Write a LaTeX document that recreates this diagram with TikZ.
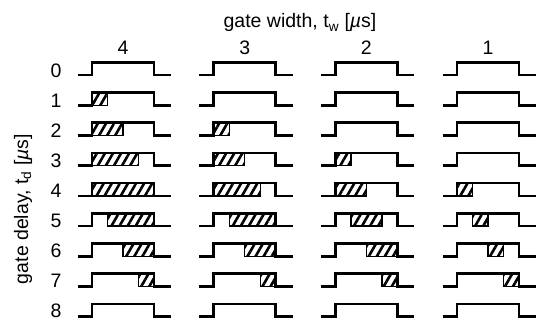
\documentclass[tikz,border=0pt]{standalone}
\usepackage{fontspec}
\setmainfont{Liberation Sans}
\usetikzlibrary{patterns.meta}

\tikzset{
  pulse/.style={line width=2.6pt, line join=miter},
  gatebox/.style={draw, line width=1.4pt, pattern={Lines[angle=60,distance=7pt,line width=2.6pt]}},
  lbl/.style={font=\fontsize{19.5}{22}\selectfont, inner sep=0pt},
}

\begin{document}
\begin{tikzpicture}[x=1pt,y=-1pt]
  \useasboundingbox (0,0) rectangle (541,321);
  % axis titles
  \node[lbl, anchor=base] (xlabel) at (300,28) {gate width, t\textsubscript{w} [\textit{µ}s]};
  \node[lbl, rotate=90] (ylabel) at (23,209) {gate delay, t\textsubscript{d} [\textit{µ}s]};
  % one column per gate width
  \foreach \w [count=\i from 0] in {4,3,2,1} {
    \pgfmathsetmacro{\xr}{92+121.7*\i}
    \node[lbl, anchor=base] (w\w) at (\xr+31,55) {\w};
    \foreach \d in {0,...,8} {
      \pgfmathsetmacro{\yb}{75+30.2*\d}
      \draw[pulse] (\xr-14.5,\yb) -- (\xr,\yb) -- (\xr,\yb-12.7) -- (\xr+62,\yb-12.7) -- (\xr+62,\yb) -- (\xr+79,\yb);
      % gated part of the pulse
      \pgfmathsetmacro{\ga}{max(0,\d-4)}
      \pgfmathsetmacro{\gb}{min(4,\d-4+\w)}
      \ifdim\gb pt>\ga pt
        \draw[gatebox] (\xr+15.5*\ga,\yb-12.7) rectangle (\xr+15.5*\gb,\yb);
      \fi
    }
  }
  % row labels
  \foreach \d in {0,...,8}
    \node[lbl, anchor=base] (d\d) at (56,77.5+30*\d) {\d};
\end{tikzpicture}
\end{document}
